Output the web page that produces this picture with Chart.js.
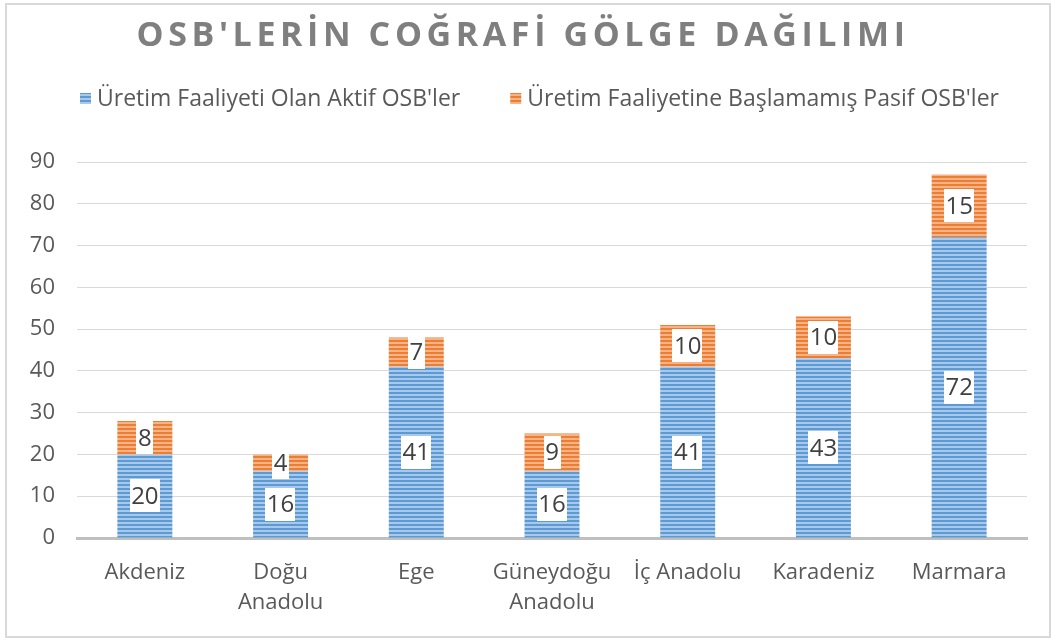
<!DOCTYPE html>
<html><head><meta charset="utf-8">
<script src="https://cdn.jsdelivr.net/npm/chart.js@4.4.1/dist/chart.umd.min.js"></script>
<style>html,body{margin:0;padding:0;background:#fff}</style>
</head><body>
<canvas id="c" width="1051" height="641"></canvas>
<script>
const categories = [['Akdeniz'], ['Doğu', 'Anadolu'], ['Ege'], ['Güneydoğu', 'Anadolu'], ['İç Anadolu'], ['Karadeniz'], ['Marmara']];
const aktifValues = [20, 16, 41, 16, 41, 43, 72];
const pasifValues = [8, 4, 7, 9, 10, 10, 15];
const seriesNames = ["Üretim Faaliyeti Olan Aktif OSB'ler", "Üretim Faaliyetine Başlamamış Pasif OSB'ler"];
const yMin = 0, yMax = 90, yStep = 10;
const titleText = "OSB'LERİN COĞRAFİ GÖLGE DAĞILIMI";

const FONT = "'Open Sans', 'DejaVu Sans', sans-serif";

function stripePattern(dark, light) {
  const c = document.createElement('canvas');
  c.width = 4; c.height = 4;
  const g = c.getContext('2d');
  g.fillStyle = light; g.fillRect(0, 0, 4, 4);
  g.fillStyle = dark; g.fillRect(0, 0, 4, 2);
  return g.createPattern(c, 'repeat');
}
const bluePat = stripePattern('#5b9bd5', '#a9c8ea');
const orangePat = stripePattern('#ed7d31', '#f5b387');
const patterns = [bluePat, orangePat];

const framePlugin = {
  id: 'frame',
  beforeDraw(chart) {
    const c = chart.ctx;
    c.save();
    c.fillStyle = '#fff';
    c.fillRect(0, 0, chart.width, chart.height);
    c.strokeStyle = '#d9d9d9';
    c.lineWidth = 2;
    c.strokeRect(6, 4, 1044, 633);
    c.restore();
  }
};

const labelPlugin = {
  id: 'barLabels',
  afterDatasetsDraw(chart) {
    const c = chart.ctx;
    c.save();
    c.font = '24px ' + FONT;
    c.textAlign = 'center';
    c.textBaseline = 'middle';
    chart.data.datasets.forEach((ds, di) => {
      const meta = chart.getDatasetMeta(di);
      meta.data.forEach((el, i) => {
        const v = ds.data[i];
        const cx = el.x;
        const cy = (el.y + el.base) / 2;
        const txt = String(v);
        const w = c.measureText(txt).width + 3;
        const h = 33;
        c.fillStyle = '#ffffff';
        c.fillRect(Math.round(cx - w / 2), Math.round(cy - h / 2), Math.round(w), h);
        c.fillStyle = '#404040';
        c.fillText(txt, cx, cy + 1);
      });
    });
    c.restore();
  }
};

const headPlugin = {
  id: 'head',
  afterDraw(chart) {
    const c = chart.ctx;
    c.save();
    // title
    c.font = 'bold 34px ' + FONT;
    c.letterSpacing = '4.6px';
    c.fillStyle = '#7f7f7f';
    c.textAlign = 'center';
    c.textBaseline = 'middle';
    c.fillText(titleText, 523, 36);
    c.letterSpacing = '0px';
    // legend
    c.font = '23px ' + FONT;
    c.textAlign = 'left';
    let x = 80;
    const yc = 99;
    seriesNames.forEach((name, i) => {
      c.fillStyle = patterns[i];
      c.fillRect(x, yc - 6, 11, 11);
      c.fillStyle = '#595959';
      c.fillText(name, x + 17, yc);
      x += 17 + c.measureText(name).width + 50;
    });
    c.restore();
  }
};

new Chart(document.getElementById('c'), {
  type: 'bar',
  data: {
    labels: categories,
    datasets: [
      { label: seriesNames[0], data: aktifValues, backgroundColor: bluePat, borderWidth: 0 },
      { label: seriesNames[1], data: pasifValues, backgroundColor: orangePat, borderWidth: 0 }
    ]
  },
  options: {
    responsive: false,
    animation: false,
    devicePixelRatio: 1,
    layout: { padding: { top: 162, left: 10, right: 24, bottom: 20 } },
    datasets: { bar: { barPercentage: 0.405, categoryPercentage: 1 } },
    plugins: { legend: { display: false }, title: { display: false }, tooltip: { enabled: false } },
    scales: {
      x: {
        stacked: true,
        grid: { display: false },
        border: { display: true, color: '#bfbfbf', width: 3 },
        ticks: { font: { family: FONT, size: 22, lineHeight: 1.36 }, color: '#595959', padding: 12, maxRotation: 0, autoSkip: false },
        afterFit(s) { s.height = 83; }
      },
      y: {
        stacked: true,
        min: yMin, max: yMax,
        ticks: { stepSize: yStep, font: { family: FONT, size: 22 }, color: '#595959', padding: 22 },
        grid: { color: '#d9d9d9', lineWidth: 1, drawTicks: false },
        border: { display: false },
        afterFit(s) { s.width = 67; }
      }
    }
  },
  plugins: [framePlugin, labelPlugin, headPlugin]
});
</script>
</body></html>
